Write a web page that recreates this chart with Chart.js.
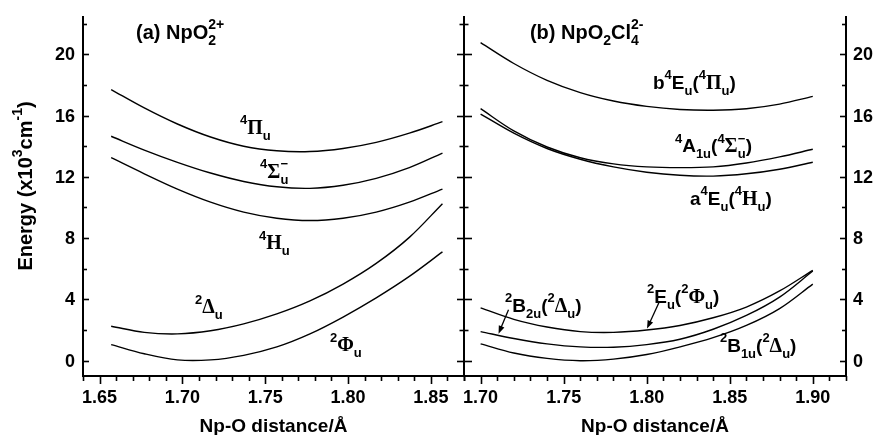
<!DOCTYPE html>
<html>
<head>
<meta charset="utf-8">
<script src="https://cdn.jsdelivr.net/npm/chart.js@4/dist/chart.umd.min.js"></script>
<style>
  body { margin: 0; background: #fff; }
  #wrap { position: relative; width: 875px; height: 435px; }
  canvas { position: absolute; top: 0; }
</style>
</head>
<body>
<div id="wrap">
  <canvas id="leftChart" width="470" height="435" style="left:0"></canvas>
  <canvas id="rightChart" width="418" height="435" style="left:457px"></canvas>
</div>
<script>
// panel (a): NpO2 2+
const leftX = [1.657, 1.677, 1.697, 1.717, 1.737, 1.757, 1.777, 1.797, 1.817, 1.837, 1.857];
const leftPi4 = [17.7, 16.5, 15.45, 14.6, 14.0, 13.7, 13.65, 13.85, 14.25, 14.85, 15.6];
const leftSigma4 = [14.65, 13.75, 12.95, 12.25, 11.7, 11.35, 11.25, 11.45, 11.9, 12.6, 13.55];
const leftH4 = [13.25, 12.2, 11.2, 10.35, 9.7, 9.3, 9.15, 9.3, 9.7, 10.35, 11.2];
const leftDelta2 = [2.25, 1.85, 1.75, 1.95, 2.4, 3.05, 3.9, 5.0, 6.35, 8.05, 10.25];
const leftPhi2 = [1.05, 0.45, 0.05, 0.05, 0.35, 0.9, 1.75, 2.85, 4.1, 5.5, 7.1];

// panel (b): NpO2Cl4 2-
const rightX = [1.70, 1.72, 1.74, 1.76, 1.78, 1.80, 1.82, 1.84, 1.86, 1.88, 1.90];
const rightB4Eu = [20.76, 19.4, 18.3, 17.5, 16.95, 16.6, 16.4, 16.35, 16.45, 16.75, 17.25];
const rightA1u = [16.45, 15.0, 13.95, 13.25, 12.85, 12.65, 12.6, 12.65, 12.9, 13.3, 13.8];
const rightA4Eu = [16.1, 14.85, 13.85, 13.15, 12.65, 12.3, 12.1, 12.05, 12.2, 12.5, 12.95];
const rightE2u = [3.45, 2.7, 2.2, 1.9, 1.85, 2.0, 2.3, 2.8, 3.5, 4.55, 5.9];
const rightB2u = [1.9, 1.45, 1.1, 0.9, 0.88, 1.05, 1.4, 2.05, 2.95, 4.15, 5.85];
const rightB1u = [1.1, 0.5, 0.15, 0.0, 0.1, 0.4, 0.9, 1.5, 2.3, 3.4, 5.0];

// axes
const leftXTicks = [1.65, 1.70, 1.75, 1.80, 1.85];
const rightXTicks = [1.70, 1.75, 1.80, 1.85, 1.90];
const yTicks = [0, 4, 8, 12, 16, 20];
const yMinorTicks = [2, 6, 10, 14, 18, 22];

// text annotations, positioned in data units
const leftLabels = [
  { x: 1.672, y: 21.0, size: 20, parts: [["t", "(a) NpO"], ["^_", "2+", "2"]] },
  { x: 1.7348, y: 14.8, size: 19, parts: [["^", "4"], ["g", "Π"], ["_", "u"]] },
  { x: 1.7469, y: 11.93, size: 19, parts: [["^", "4"], ["g", "Σ"], ["^_", "−", "u"]] },
  { x: 1.7462, y: 7.29, size: 19, parts: [["^", "4"], ["g", "H"], ["_", "u"]] },
  { x: 1.7076, y: 3.11, size: 19, parts: [["^", "2"], ["g", "Δ"], ["_", "u"]] },
  { x: 1.7891, y: 0.63, size: 19, parts: [["^", "2"], ["g", "Φ"], ["_", "u"]] },
];
const rightLabels = [
  { x: 1.7297, y: 21.0, size: 20, parts: [["t", "(b) NpO"], ["_", "2"], ["t", "Cl"], ["^_", "2-", "4"]] },
  { x: 1.8038, y: 17.74, size: 19, parts: [["t", "b"], ["^", "4"], ["t", "E"], ["_", "u"], ["t", "("], ["^", "4"], ["g", "Π"], ["_", "u"], ["t", ")"]] },
  { x: 1.8170, y: 13.62, size: 19, parts: [["^", "4"], ["t", "A"], ["_", "1u"], ["t", "("], ["^", "4"], ["g", "Σ"], ["^_", "−", "u"], ["t", ")"]] },
  { x: 1.8261, y: 10.17, size: 19, parts: [["t", "a"], ["^", "4"], ["t", "E"], ["_", "u"], ["t", "("], ["^", "4"], ["g", "H"], ["_", "u"], ["t", ")"]] },
  { x: 1.7147, y: 3.18, size: 19, parts: [["^", "2"], ["t", "B"], ["_", "2u"], ["t", "("], ["^", "2"], ["g", "Δ"], ["_", "u"], ["t", ")"]] },
  { x: 1.8002, y: 3.77, size: 19, parts: [["^", "2"], ["t", "E"], ["_", "u"], ["t", "("], ["^", "2"], ["g", "Φ"], ["_", "u"], ["t", ")"]] },
  { x: 1.8441, y: 0.57, size: 19, parts: [["^", "2"], ["t", "B"], ["_", "1u"], ["t", "("], ["^", "2"], ["g", "Δ"], ["_", "u"], ["t", ")"]] },
];
const rightArrows = [
  { from: [1.7168, 3.33], to: [1.7108, 1.76] },
  { from: [1.8074, 3.8], to: [1.8002, 2.1] },
];

const SANS = "'Liberation Sans', Arial, sans-serif";
const SERIF = "'Liberation Serif', 'DejaVu Serif', serif";
const font = (size, serif) => `bold ${size}px ${serif ? SERIF : SANS}`;

function richLayout(ctx, parts, size, draw, x, y) {
  const small = Math.round(size * 0.68);
  const supY = -size * 0.5;
  const subY = size * 0.32;
  let cx = x;
  parts.forEach(([kind, a, b]) => {
    if (kind === "t" || kind === "g") {
      ctx.font = font(kind === "g" ? size + 1 : size, kind === "g");
      if (draw) ctx.fillText(a, cx, y);
      cx += ctx.measureText(a).width;
    } else if (kind === "^" || kind === "_") {
      ctx.font = font(small, false);
      if (draw) ctx.fillText(a, cx, y + (kind === "^" ? supY : subY));
      cx += ctx.measureText(a).width;
    } else {
      ctx.font = font(small, false);
      if (draw) {
        ctx.fillText(a, cx, y + supY);
        ctx.fillText(b, cx, y + subY);
      }
      cx += Math.max(ctx.measureText(a).width, ctx.measureText(b).width);
    }
  });
  return cx - x;
}

function drawRich(ctx, parts, size, x, y) {
  ctx.textAlign = "left";
  ctx.textBaseline = "alphabetic";
  richLayout(ctx, parts, size, true, x, y);
}

function drawArrow(ctx, x1, y1, x2, y2) {
  const angle = Math.atan2(y2 - y1, x2 - x1);
  ctx.beginPath();
  ctx.moveTo(x1, y1);
  ctx.lineTo(x2 - 5 * Math.cos(angle), y2 - 5 * Math.sin(angle));
  ctx.lineWidth = 1.3;
  ctx.stroke();
  ctx.beginPath();
  ctx.moveTo(x2, y2);
  ctx.lineTo(x2 - 8 * Math.cos(angle) + 3 * Math.sin(angle), y2 - 8 * Math.sin(angle) - 3 * Math.cos(angle));
  ctx.lineTo(x2 - 8 * Math.cos(angle) - 3 * Math.sin(angle), y2 - 8 * Math.sin(angle) + 3 * Math.cos(angle));
  ctx.closePath();
  ctx.fill();
}

const frame = {
  id: "frame",
  afterDatasetsDraw(chart, args, opts) {
    const { ctx, chartArea: area, scales } = chart;
    const xs = scales.x;
    const ys = scales.y;
    ctx.save();
    ctx.strokeStyle = "#000";
    ctx.fillStyle = "#000";
    ctx.lineWidth = 2;

    // bottom axis with minor ticks every 0.01
    ctx.beginPath();
    ctx.moveTo(area.left - 1, area.bottom);
    ctx.lineTo(area.right + 1, area.bottom);
    ctx.stroke();
    const lo = Math.ceil(xs.min * 100 - 1e-6);
    const hi = Math.floor(xs.max * 100 + 1e-6);
    ctx.lineWidth = 1.6;
    for (let k = lo; k <= hi; k++) {
      const px = Math.round(xs.getPixelForValue(k / 100)) + 0.5;
      const len = k % 5 === 0 ? 8 : 5;
      ctx.beginPath();
      ctx.moveTo(px, area.bottom);
      ctx.lineTo(px, area.bottom + len);
      ctx.stroke();
    }
    ctx.font = font(18, false);
    ctx.textAlign = "center";
    ctx.textBaseline = "alphabetic";
    opts.xTicks.forEach((v) => {
      ctx.fillText(v.toFixed(2), xs.getPixelForValue(v), area.bottom + 27);
    });
    ctx.font = font(19, false);
    ctx.fillText("Np-O distance/Å", (area.left + area.right) / 2, 432);

    // vertical axes
    const yAxis = (x, mode) => {
      ctx.lineWidth = 2;
      ctx.beginPath();
      ctx.moveTo(x, area.top);
      ctx.lineTo(x, area.bottom + 1);
      ctx.stroke();
      ctx.lineWidth = 1.6;
      const tick = (v, len) => {
        const py = Math.round(ys.getPixelForValue(v)) + 0.5;
        ctx.beginPath();
        if (mode === "cross") {
          ctx.moveTo(x - len, py);
          ctx.lineTo(x + len, py);
        } else {
          ctx.moveTo(x, py);
          ctx.lineTo(x + (mode === "left" ? len : -len), py);
        }
        ctx.stroke();
      };
      yTicks.forEach((v) => tick(v, mode === "cross" ? 8 : 6));
      yMinorTicks.forEach((v) => tick(v, mode === "cross" ? 4.5 : 4));
      if (mode !== "cross") {
        ctx.font = font(18, false);
        ctx.textBaseline = "middle";
        ctx.textAlign = mode === "left" ? "right" : "left";
        yTicks.forEach((v) => {
          ctx.fillText(String(v), mode === "left" ? x - 8 : x + 7, ys.getPixelForValue(v) + 1);
        });
      }
    };
    opts.yAxes.forEach(([side, mode]) => yAxis(side === "left" ? area.left : area.right, mode));

    // y title
    if (opts.yTitle) {
      ctx.save();
      ctx.translate(32, 186);
      ctx.rotate(-Math.PI / 2);
      const parts = [["t", "Energy (x10"], ["^", "3"], ["t", "cm"], ["^", "-1"], ["t", ")"]];
      const w = richLayout(ctx, parts, 20, false, 0, 0);
      drawRich(ctx, parts, 20, -w / 2, 0);
      ctx.restore();
    }

    // labels and arrows
    opts.labels.forEach((lab) => {
      drawRich(ctx, lab.parts, lab.size, xs.getPixelForValue(lab.x), ys.getPixelForValue(lab.y));
    });
    opts.arrows.forEach((a) => {
      drawArrow(ctx,
        xs.getPixelForValue(a.from[0]), ys.getPixelForValue(a.from[1]),
        xs.getPixelForValue(a.to[0]), ys.getPixelForValue(a.to[1]));
    });
    ctx.restore();
  },
};

function curve(xsArr, ysArr) {
  return {
    data: xsArr.map((x, i) => ({ x, y: ysArr[i] })),
    borderColor: "#000",
    borderWidth: 1.4,
    pointRadius: 0,
    tension: 0.35,
    fill: false,
  };
}

function panel(canvasId, xMin, xMax, padding, series, frameOpts) {
  return new Chart(document.getElementById(canvasId), {
    type: "line",
    data: { datasets: series },
    options: {
      responsive: false,
      animation: false,
      events: [],
      layout: { padding },
      plugins: { legend: { display: false }, tooltip: { enabled: false }, frame: frameOpts },
      scales: {
        x: { type: "linear", min: xMin, max: xMax, display: false },
        y: { type: "linear", min: -1, max: 22.5, display: false },
      },
    },
    plugins: [frame],
  });
}

panel("leftChart", 1.64, 1.87, { left: 83, right: 6, top: 16, bottom: 59 }, [
  curve(leftX, leftPi4),
  curve(leftX, leftSigma4),
  curve(leftX, leftH4),
  curve(leftX, leftDelta2),
  curve(leftX, leftPhi2),
], { xTicks: leftXTicks, yAxes: [["left", "left"]], yTitle: true, labels: leftLabels, arrows: [] });

panel("rightChart", 1.69, 1.92, { left: 7, right: 29, top: 16, bottom: 59 }, [
  curve(rightX, rightB4Eu),
  curve(rightX, rightA1u),
  curve(rightX, rightA4Eu),
  curve(rightX, rightE2u),
  curve(rightX, rightB2u),
  curve(rightX, rightB1u),
], { xTicks: rightXTicks, yAxes: [["left", "cross"], ["right", "right"]], yTitle: false, labels: rightLabels, arrows: rightArrows });
</script>
</body>
</html>
